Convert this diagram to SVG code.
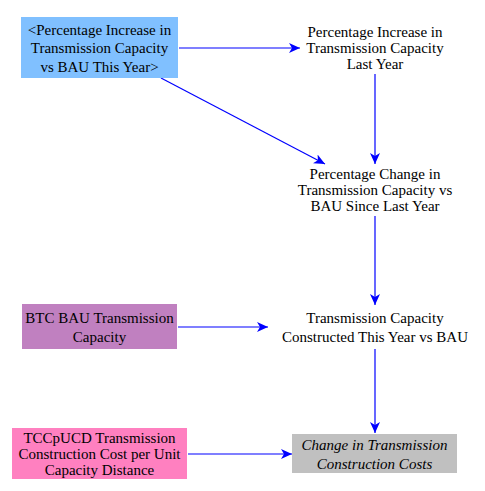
<svg xmlns="http://www.w3.org/2000/svg" width="485" height="491" viewBox="0 0 485 491">
<defs>
<marker id="ah" markerWidth="12" markerHeight="10" refX="11" refY="5" orient="auto" markerUnits="userSpaceOnUse">
<path d="M0,0 L11,5 L0,10 L3,5 Z" fill="#0000ff"/>
</marker>
<style>
.t text{font-size:15px;fill:#000;text-anchor:middle}
.it{font-style:italic}
.c{stroke:#0000ff;stroke-width:1.2;fill:none;marker-end:url(#ah)}
</style>
</defs>
<rect width="485" height="491" fill="#fff"/>
<g id="connectors">
<line class="c" x1="179" y1="48" x2="300" y2="48"/>
<line class="c" x1="161" y1="78" x2="325" y2="164"/>
<line class="c" x1="375" y1="74" x2="375" y2="164"/>
<line class="c" x1="375" y1="216" x2="375" y2="305"/>
<line class="c" x1="178" y1="327" x2="268" y2="327"/>
<line class="c" x1="375" y1="349" x2="375" y2="433"/>
<line class="c" x1="188" y1="454" x2="292" y2="454"/>
</g>
<g class="t" font-family="Liberation Serif, Times New Roman, DejaVu Serif, serif">
<g id="n1">
<rect x="21" y="17" width="157" height="61" fill="#80c0ff"/>
<text x="99.5" y="35">&lt;Percentage Increase in</text>
<text x="99.5" y="53">Transmission Capacity</text>
<text x="99.5" y="72">vs BAU This Year&gt;</text>
</g>
<g id="n2">
<text x="375" y="37">Percentage Increase in</text>
<text x="375" y="53">Transmission Capacity</text>
<text x="375" y="69">Last Year</text>
</g>
<g id="n3">
<text x="375" y="179">Percentage Change in</text>
<text x="375" y="195">Transmission Capacity vs</text>
<text x="375" y="211">BAU Since Last Year</text>
</g>
<g id="n4">
<rect x="22" y="304" width="155" height="45" fill="#c080c0"/>
<text x="99.5" y="323">BTC BAU Transmission</text>
<text x="99.5" y="342">Capacity</text>
</g>
<g id="n5">
<text x="375" y="323">Transmission Capacity</text>
<text x="375" y="342">Constructed This Year vs BAU</text>
</g>
<g id="n6">
<rect x="12" y="428" width="175" height="51" fill="#ff80c0"/>
<text x="99.5" y="443">TCCpUCD Transmission</text>
<text x="99.5" y="459">Construction Cost per Unit</text>
<text x="99.5" y="475">Capacity Distance</text>
</g>
<g id="n7">
<rect x="292" y="434" width="165" height="39" fill="#c0c0c0"/>
<text class="it" x="374.5" y="450">Change in Transmission</text>
<text class="it" x="374.5" y="469">Construction Costs</text>
</g>
</g>
</svg>
